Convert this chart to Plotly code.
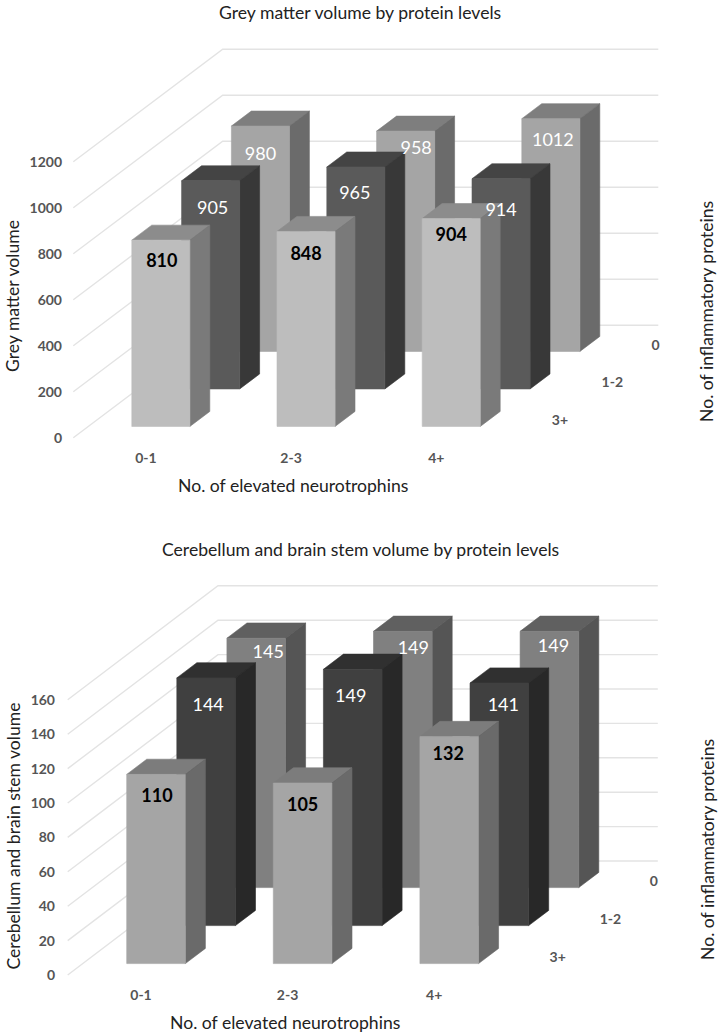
import plotly.graph_objects as go

W, H = 721, 1035

categories = ["0-1", "2-3", "4+"]
row_labels = ["3+", "1-2", "0"]

grey_values_3plus = [810, 848, 904]
grey_values_1to2 = [905, 965, 914]
grey_values_0 = [980, 958, 1012]
grey_ticks = [0, 200, 400, 600, 800, 1000, 1200]

cereb_values_3plus = [110, 105, 132]
cereb_values_1to2 = [144, 149, 141]
cereb_values_0 = [145, 149, 149]
cereb_ticks = [0, 20, 40, 60, 80, 100, 120, 140, 160]

FONT = "Lato"
TEXT = "#222222"
TICK = "#555555"
GRID = "#e3e3e3"

panels = [
    dict(
        xa="x", ya="y", series=[grey_values_3plus, grey_values_1to2, grey_values_0], ticks=grey_ticks,
        x0=73.3, y0=437.7, cell=145.2, rdx=49.8, rdy=37.5, scale=0.23, top=0, bottom=448, tick_x=62,
        colors=[("#bdbdbd", "#7a7a7a", "#8c8c8c"), ("#5a5a5a", "#383838", "#444444"), ("#a5a5a5", "#6b6b6b", "#7e7e7e")],
        nudges=[[(1, -22.5, "#000000"), (0, -24, "#000000"), (0, -17.5, "#000000")],
                [(2, -28.5, "#ffffff"), (-1, -27.5, "#ffffff"), (0, -32.5, "#ffffff")],
                [(0, -29.5, "#ffffff"), (10.5, -18, "#ffffff"), (2, -22.5, "#ffffff")]],
        row_nudge=18,
    ),
    dict(
        xa="x2", ya="y2", series=[cereb_values_3plus, cereb_values_1to2, cereb_values_0], ticks=cereb_ticks,
        x0=67.7, y0=975.0, cell=146.6, rdx=50.1, rdy=38.0, scale=1.72, top=500, bottom=985, tick_x=55,
        colors=[("#a5a5a5", "#6a6a6a", "#7c7c7c"), ("#404040", "#282828", "#303030"), ("#808080", "#555555", "#606060")],
        nudges=[[(1, -23.5, "#000000"), (0, -23.5, "#000000"), (-1, -18.5, "#000000")],
                [(2, -28.5, "#ffffff"), (-2, -28.5, "#ffffff"), (4, -23.5, "#ffffff")],
                [(12, -15.5, "#ffffff"), (10.5, -18, "#ffffff"), (4, -16.5, "#ffffff")]],
        row_nudge=17,
    ),
]


def project(p, u, r, v, dx=0.0, dy=0.0):
    """Oblique projection to axis units: u = category cell, r = depth row, v = value."""
    x = u + (r * p["rdx"] + dx) / p["cell"]
    y = v + (r * p["rdy"] + dy) / p["scale"]
    return x, y


def faces(p, row, values):
    fx, fy, sx, sy, tx, ty = [], [], [], [], [], []
    for i, v in enumerate(values):
        u0, u1 = i + 0.3, i + 0.7
        r0, r1 = row + 0.3, row + 0.7
        for xs, ys, corners in (
            (fx, fy, [(u0, r0, 0), (u1, r0, 0), (u1, r0, v), (u0, r0, v)]),
            (sx, sy, [(u1, r0, 0), (u1, r1, 0), (u1, r1, v), (u1, r0, v)]),
            (tx, ty, [(u0, r0, v), (u1, r0, v), (u1, r1, v), (u0, r1, v)]),
        ):
            pts = [project(p, *c) for c in corners]
            pts.append(pts[0])
            xs += [q[0] for q in pts] + [None]
            ys += [q[1] for q in pts] + [None]
    return (fx, fy), (sx, sy), (tx, ty)


fig = go.Figure()

for p in panels:
    # wall gridlines
    gx, gy = [], []
    for t in p["ticks"]:
        for c in [(0, 0, t), (0, 3, t), (3, 3, t)]:
            a, b = project(p, *c)
            gx.append(a)
            gy.append(b)
        gx.append(None)
        gy.append(None)
    fig.add_trace(go.Scatter(x=gx, y=gy, xaxis=p["xa"], yaxis=p["ya"], mode="lines",
                             line=dict(color=GRID, width=1.4), hoverinfo="skip"))

    # bars, back row first
    for row in (2, 1, 0):
        front, side, top = faces(p, row, p["series"][row])
        c_front, c_side, c_top = p["colors"][row]
        for (xs, ys), col in ((top, c_top), (side, c_side), (front, c_front)):
            fig.add_trace(go.Scatter(x=xs, y=ys, xaxis=p["xa"], yaxis=p["ya"], mode="lines", fill="toself",
                                     fillcolor=col, line=dict(color=col, width=0.6), hoverinfo="skip"))

    # value labels
    for row in (2, 1, 0):
        for i, v in enumerate(p["series"][row]):
            dx, dy, col = p["nudges"][row][i]
            x, y = project(p, i + 0.5, row + 0.3, v, dx, dy)
            black = col == "#000000"
            fig.add_trace(go.Scatter(x=[x], y=[y], xaxis=p["xa"], yaxis=p["ya"], mode="text", text=[str(v)],
                                     textposition="middle center", cliponaxis=False, hoverinfo="skip",
                                     textfont=dict(family=FONT, size=18, color=col,
                                                   weight="bold" if black else "normal")))

    # depth-axis labels
    rx, ry = zip(*[project(p, 3, r + 0.5, 0, p["row_nudge"], -2.3) for r in range(3)])
    fig.add_trace(go.Scatter(x=list(rx), y=list(ry), xaxis=p["xa"], yaxis=p["ya"], mode="text", text=row_labels,
                             textposition="middle right", cliponaxis=False, hoverinfo="skip",
                             textfont=dict(family=FONT, size=14, color=TICK, weight="bold")))


def axes(p):
    xr = [-p["x0"] / p["cell"], (W - p["x0"]) / p["cell"]]
    yr = [(p["y0"] - p["bottom"]) / p["scale"], (p["y0"] - p["top"]) / p["scale"]]
    dom = [1 - p["bottom"] / H, 1 - p["top"] / H]
    tickfont = dict(family=FONT, size=14, color=TICK, weight="bold")
    xaxis = dict(domain=[0, 1], range=xr, anchor=p["ya"], showgrid=False, zeroline=False, showline=False, ticks="",
                 tickmode="array", tickvals=[i + 0.5 for i in range(3)], ticktext=categories, tickfont=tickfont)
    yaxis = dict(domain=dom, range=yr, anchor="free", position=p["tick_x"] / W, showgrid=False, zeroline=False,
                 showline=False, ticks="", tickmode="array", tickvals=p["ticks"],
                 ticktext=[str(t) for t in p["ticks"]], tickfont=tickfont)
    return xaxis, yaxis


x1, y1 = axes(panels[0])
x2, y2 = axes(panels[1])


def note(text, px, py, angle=0, size=17.6):
    return dict(text=text, x=px / W, y=1 - py / H, xref="paper", yref="paper", showarrow=False, textangle=angle,
                xanchor="center", yanchor="middle", font=dict(family=FONT, size=size, color=TEXT))


annotations = [
    note("Grey matter volume by protein levels", 359.5, 13),
    note("Grey matter volume", 12, 296, -90),
    note("No. of elevated neurotrophins", 293, 486),
    note("No. of inflammatory proteins", 707, 312, -90),
    note("Cerebellum and brain stem volume by protein levels", 360, 549),
    note("Cerebellum and brain stem volume", 13, 836.5, -90),
    note("No. of elevated neurotrophins", 285, 1022),
    note("No. of inflammatory proteins", 707, 850, -90),
]

fig.update_layout(
    width=W, height=H, autosize=False, margin=dict(l=0, r=0, t=0, b=0),
    paper_bgcolor="white", plot_bgcolor="rgba(0,0,0,0)", showlegend=False,
    xaxis=x1, yaxis=y1, xaxis2=x2, yaxis2=y2, annotations=annotations,
)

fig.write_html("out.html", post_script="document.body.style.margin='0';document.body.style.overflow='hidden';",
               config=dict(displayModeBar=False))
